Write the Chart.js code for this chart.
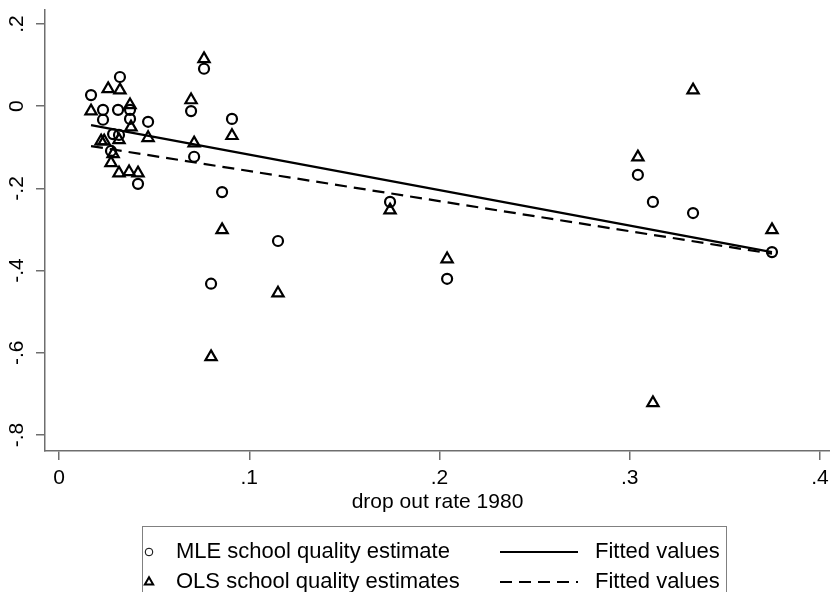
<!DOCTYPE html>
<html>
<head>
<meta charset="utf-8">
<script src="https://cdn.jsdelivr.net/npm/chart.js@4.4.0/dist/chart.umd.min.js"></script>
<style>
  html, body { margin: 0; padding: 0; background: #fff; }
</style>
</head>
<body>
<canvas id="dropoutChart" width="830" height="592"></canvas>
<script>
// values
const mleX = [0.0168, 0.0231, 0.0231, 0.031, 0.032, 0.0373, 0.0373, 0.0468, 0.0284, 0.0315,
              0.0273, 0.0415, 0.0762, 0.0694, 0.071, 0.0909, 0.0857, 0.0799, 0.1151, 0.174,
              0.204, 0.3043, 0.3122, 0.3333, 0.3748];
const mleY = [0.027, -0.009, -0.033, -0.009, 0.071, -0.009, -0.031, -0.038, -0.068, -0.070,
              -0.109, -0.189, 0.091, -0.012, -0.123, -0.031, -0.209, -0.432, -0.328, -0.233,
              -0.420, -0.167, -0.233, -0.260, -0.355];

const olsX = [0.0168, 0.0258, 0.032, 0.0373, 0.0378, 0.0221, 0.0237, 0.0315, 0.0284, 0.0273,
              0.0315, 0.0368, 0.0415, 0.0468, 0.0762, 0.0694, 0.071, 0.0909, 0.0857, 0.1151,
              0.0799, 0.174, 0.204, 0.3333, 0.3043, 0.3748, 0.3122];
const olsY = [-0.012, 0.042, 0.039, 0.003, -0.051, -0.085, -0.085, -0.082, -0.116, -0.138,
              -0.163, -0.160, -0.163, -0.077, 0.115, 0.015, -0.090, -0.072, -0.301, -0.455,
              -0.610, -0.253, -0.372, 0.039, -0.124, -0.301, -0.722];

const fitX = [0.0168, 0.3748];
const fitMleY = [-0.046, -0.355];
const fitOlsY = [-0.097, -0.359];

const xTicks = [0, 0.1, 0.2, 0.3, 0.4];
const xTickLabels = ["0", ".1", ".2", ".3", ".4"];
const yTicks = [-0.8, -0.6, -0.4, -0.2, 0, 0.2];
const yTickLabels = ["-.8", "-.6", "-.4", "-.2", "0", ".2"];

const toPoints = (xs, ys) => xs.map((x, i) => ({ x: x, y: ys[i] }));

const FONT = "'Liberation Sans', Arial, sans-serif";
const AXIS_GREY = "#6e6e6e";

// legend in a box under the axis title, two columns like the stata graph
const boxLegend = {
    id: "boxLegend",
    afterDraw(chart) {
        const ctx = chart.ctx;
        const ds = chart.data.datasets;
        ctx.save();
        ctx.strokeStyle = "#808080";
        ctx.lineWidth = 1;
        ctx.strokeRect(142.5, 526.5, 584, 90);
        ctx.font = "22px " + FONT;
        ctx.textBaseline = "middle";
        const rows = [[ds[0], ds[2]], [ds[1], ds[3]]];
        rows.forEach(function (row, i) {
            const pts = row[0], fit = row[1];
            const y = 552 + i * 30;
            ctx.strokeStyle = "#000";
            ctx.fillStyle = "rgba(0,0,0,0)";
            Chart.helpers.drawPoint(ctx, {
                pointStyle: pts.pointStyle,
                radius: pts.pointStyle === "triangle" ? 4.8 : 3.8,
                borderWidth: 1.8
            }, 149, y);
            ctx.fillStyle = "#000";
            ctx.fillText(pts.label, 176, y);
            ctx.beginPath();
            ctx.lineWidth = 2;
            ctx.setLineDash(fit.borderDash || []);
            ctx.moveTo(500, y);
            ctx.lineTo(578, y);
            ctx.stroke();
            ctx.setLineDash([]);
            ctx.fillText(fit.label, 595, y);
        });
        ctx.restore();
    }
};

new Chart(document.getElementById("dropoutChart").getContext("2d"), {
    type: "scatter",
    data: {
        datasets: [
            {
                label: "MLE school quality estimate",
                data: toPoints(mleX, mleY),
                pointStyle: "circle",
                pointRadius: 5,
                borderColor: "#000",
                backgroundColor: "rgba(0,0,0,0)",
                borderWidth: 2.2
            },
            {
                label: "OLS school quality estimates",
                data: toPoints(olsX, olsY),
                pointStyle: "triangle",
                pointRadius: 6.5,
                borderColor: "#000",
                backgroundColor: "rgba(0,0,0,0)",
                borderWidth: 2.2
            },
            {
                type: "line",
                label: "Fitted values",
                data: toPoints(fitX, fitMleY),
                borderColor: "#000",
                borderWidth: 2.2,
                pointRadius: 0,
                fill: false
            },
            {
                type: "line",
                label: "Fitted values",
                data: toPoints(fitX, fitOlsY),
                borderColor: "#000",
                borderWidth: 2.2,
                borderDash: [12, 7],
                pointRadius: 0,
                fill: false
            }
        ]
    },
    options: {
        responsive: false,
        animation: false,
        // no auto padding: the stata plot region runs right to the image edge
        layout: { autoPadding: false, padding: { top: 10, left: 0, right: 0, bottom: 77 } },
        plugins: {
            legend: { display: false },
            tooltip: { enabled: false }
        },
        scales: {
            x: {
                type: "linear",
                min: -0.0074,
                max: 0.4053,
                afterBuildTicks: s => { s.ticks = xTicks.map(v => ({ value: v })); },
                afterFit: s => { s.height = 64; s.paddingLeft = 0; s.paddingRight = 0; },
                ticks: {
                    color: "#000",
                    padding: 6,
                    font: { family: FONT, size: 21 },
                    callback: v => xTickLabels[xTicks.indexOf(v)]
                },
                grid: { display: true, drawOnChartArea: false, drawTicks: true, tickLength: 9, color: AXIS_GREY, lineWidth: 1.5 },
                border: { display: true, color: AXIS_GREY, width: 1.5 },
                title: {
                    display: true,
                    text: "drop out rate 1980",
                    color: "#000",
                    padding: 0,
                    font: { family: FONT, size: 21 }
                }
            },
            y: {
                type: "linear",
                min: -0.839,
                max: 0.234,
                afterBuildTicks: s => { s.ticks = yTicks.map(v => ({ value: v })); },
                afterFit: s => { s.width = 45; s.paddingTop = 0; s.paddingBottom = 0; },
                ticks: {
                    color: "#000",
                    padding: 7,
                    minRotation: 90,
                    maxRotation: 90,
                    crossAlign: "center",
                    font: { family: FONT, size: 21 },
                    callback: v => yTickLabels[yTicks.indexOf(v)]
                },
                grid: { display: true, drawOnChartArea: false, drawTicks: true, tickLength: 9, color: AXIS_GREY, lineWidth: 1.5 },
                border: { display: true, color: AXIS_GREY, width: 1.5 }
            }
        }
    },
    plugins: [boxLegend]
});
</script>
</body>
</html>
